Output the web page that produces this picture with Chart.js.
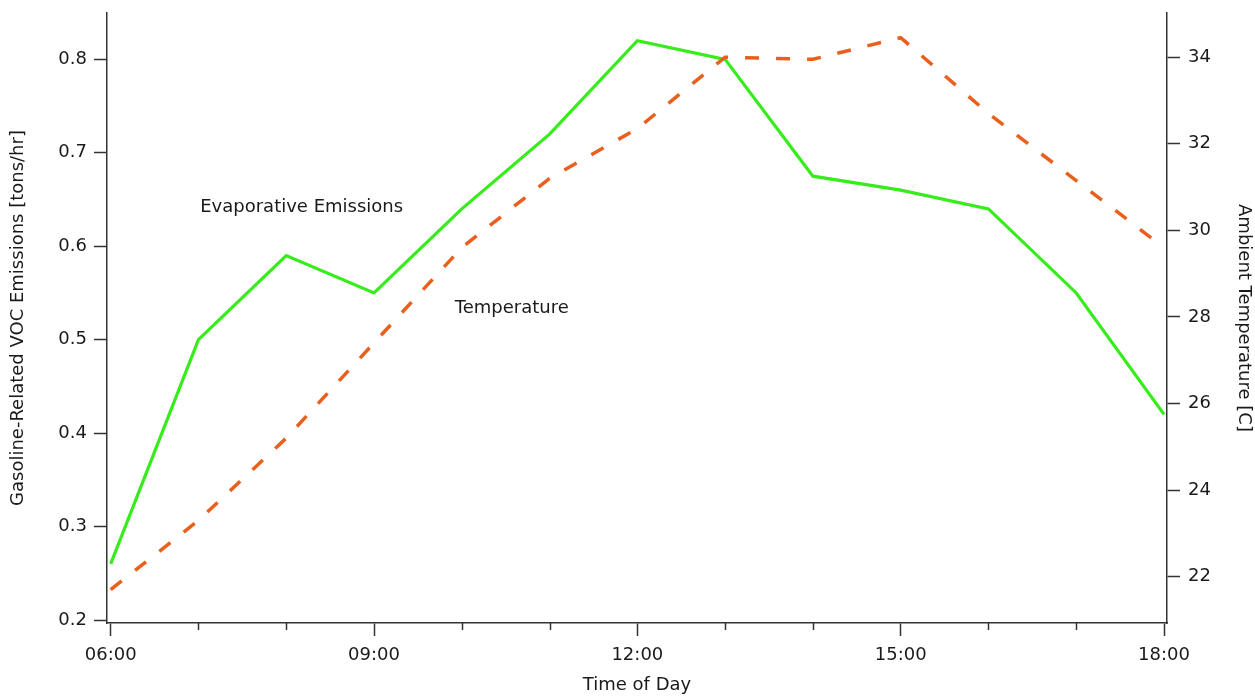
<!DOCTYPE html>
<html>
<head>
<meta charset="utf-8">
<script src="https://cdn.jsdelivr.net/npm/chart.js@4/dist/chart.umd.min.js"></script>
<style>
  html, body { margin: 0; padding: 0; background: #fff; }
  #wrap { width: 1255px; height: 696px; position: relative; }
</style>
</head>
<body>
<div id="wrap"><canvas id="c" width="1255" height="696"></canvas></div>
<script>
// ---- data ----
const hours = [6, 7, 8, 9, 10, 11, 12, 13, 14, 15, 16, 17, 18];
const emissions = [0.26, 0.50, 0.59, 0.55, 0.64, 0.72, 0.82, 0.80, 0.675, 0.66, 0.64, 0.55, 0.42];
const temperature = [21.7, 23.3, 25.2, 27.4, 29.6, 31.2, 32.35, 34.0, 33.95, 34.45, 32.7, 31.15, 29.6];
const xTickValues = [6, 9, 12, 15, 18];
const xTickLabels = ['06:00', '09:00', '12:00', '15:00', '18:00'];
const seriesNames = ['Evaporative Emissions', 'Temperature'];

const FONT = 'DejaVu Sans';
const TEXT = '#1a1a1a';
const AXIS = '#333';

const minorTicks = {
  id: 'minorTicks',
  afterDraw(chart) {
    const ctx = chart.ctx, xs = chart.scales.x;
    ctx.save();
    ctx.strokeStyle = AXIS; ctx.lineWidth = 1.5;
    hours.filter(h => !xTickValues.includes(h)).forEach(h => {
      const px = Math.round(xs.getPixelForValue(h)) + 0.5;
      ctx.beginPath(); ctx.moveTo(px, xs.top); ctx.lineTo(px, xs.top + 7); ctx.stroke();
    });
    ctx.restore();
  }
};

const labelPos = [ {x: 7.02, y: 0.642}, {x: 9.92, y: 0.5336} ];
const seriesLabels = {
  id: 'seriesLabels',
  afterDraw(chart) {
    const ctx = chart.ctx, xs = chart.scales.x, ys = chart.scales.y;
    ctx.save();
    ctx.font = '18px "' + FONT + '"';
    ctx.fillStyle = TEXT; ctx.textAlign = 'left'; ctx.textBaseline = 'middle';
    seriesNames.forEach((n, i) => {
      ctx.fillText(n, xs.getPixelForValue(labelPos[i].x), ys.getPixelForValue(labelPos[i].y));
    });
    ctx.restore();
  }
};

function noPad(s) { s.paddingTop = 0; s.paddingBottom = 0; s.paddingLeft = 0; s.paddingRight = 0; }

new Chart(document.getElementById('c'), {
  type: 'line',
  data: {
    datasets: [
      {
        label: seriesNames[1],
        data: hours.map((h, i) => ({x: h, y: temperature[i]})),
        yAxisID: 'y1',
        borderColor: '#E8601C', borderWidth: 3.5, borderDash: [14, 17],
        pointRadius: 0, tension: 0, fill: false, order: 0
      },
      {
        label: seriesNames[0],
        data: hours.map((h, i) => ({x: h, y: emissions[i]})),
        yAxisID: 'y',
        borderColor: '#36EC1A', borderWidth: 3.2,
        pointRadius: 0, tension: 0, fill: false, order: 1
      }
    ]
  },
  options: {
    responsive: false, animation: false, devicePixelRatio: 1,
    layout: { padding: { top: 13, left: 0, right: 0, bottom: 0 } },
    plugins: { legend: { display: false }, tooltip: { enabled: false } },
    scales: {
      x: {
        type: 'linear', position: 'bottom', min: 5.958, max: 18.034,
        afterFit(s) { s.height = 73; noPad(s); },
        border: { display: true, color: AXIS, width: 1.5 },
        grid: { display: true, drawOnChartArea: false, drawTicks: true, tickLength: 13, tickColor: AXIS, tickWidth: 1.5 },
        ticks: {
          stepSize: 3, includeBounds: false, padding: 9, color: TEXT, maxRotation: 0, autoSkip: false,
          font: { family: FONT, size: 18 },
          callback: v => { const i = xTickValues.indexOf(v); return i >= 0 ? xTickLabels[i] : ''; }
        },
        title: { display: true, text: 'Time of Day', color: TEXT, font: { family: FONT, size: 18 }, padding: { top: 0, bottom: 0 } }
      },
      y: {
        type: 'linear', position: 'left', min: 0.1968, max: 0.8496,
        afterFit(s) { s.width = 107; noPad(s); },
        border: { display: true, color: AXIS, width: 1.5 },
        grid: { display: true, drawOnChartArea: false, drawTicks: true, tickLength: 13, tickColor: AXIS, tickWidth: 1.5 },
        ticks: { stepSize: 0.1, includeBounds: false, padding: 7, color: TEXT, font: { family: FONT, size: 18 } },
        title: { display: true, text: 'Gasoline-Related VOC Emissions [tons/hr]', color: TEXT, font: { family: FONT, size: 18 }, padding: { top: 8, bottom: 0 } }
      },
      y1: {
        type: 'linear', position: 'right', min: 20.93, max: 35.02,
        afterFit(s) { s.width = 88; noPad(s); },
        border: { display: true, color: AXIS, width: 1.5 },
        grid: { display: true, drawOnChartArea: false, drawTicks: true, tickLength: 13, tickColor: AXIS, tickWidth: 1.5 },
        ticks: { stepSize: 2, includeBounds: false, padding: 8, color: TEXT, font: { family: FONT, size: 18 } },
        title: { display: true, text: 'Ambient Temperature [C]', color: TEXT, font: { family: FONT, size: 18 }, padding: { top: 1, bottom: 0 } }
      }
    }
  },
  plugins: [minorTicks, seriesLabels]
});
</script>
</body>
</html>
